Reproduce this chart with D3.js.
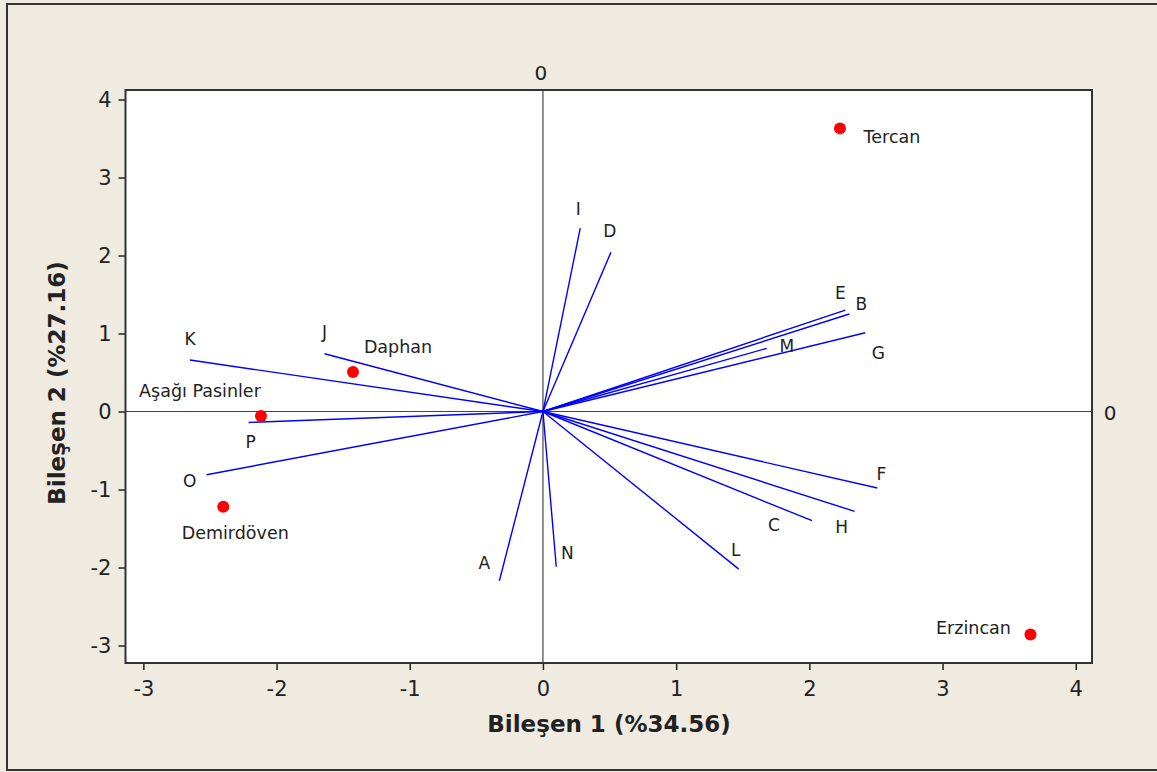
<!DOCTYPE html>
<html>
<head>
<meta charset="utf-8">
<script src="https://cdn.jsdelivr.net/npm/d3@7"></script>
<style>
  body { margin: 0; background: #efebe0; }
  text { font-family: "DejaVu Sans", Verdana, sans-serif; fill: #222; }
</style>
</head>
<body>
<div id="chart"></div>
<script>
// biplot data
const regions = ["Tercan", "Daphan", "Aşağı Pasinler", "Demirdöven", "Erzincan"]
const regionX = [2.23, -1.426, -2.117, -2.40, 3.66]
const regionY = [3.63, 0.506, -0.058, -1.22, -2.86]

const variables = ["A", "B", "C", "D", "E", "F", "G", "H", "I", "J", "K", "L", "M", "N", "O", "P"]
const loadX = [-0.327, 2.30, 2.02, 0.51, 2.27, 2.51, 2.42, 2.34, 0.28, -1.64, -2.65, 1.47, 1.68, 0.10, -2.525, -2.21]
const loadY = [-2.17, 1.25, -1.40, 2.04, 1.30, -0.98, 1.01, -1.28, 2.35, 0.74, 0.66, -2.02, 0.81, -1.99, -0.81, -0.14]

const xTicks = [-3, -2, -1, 0, 1, 2, 3, 4]
const yTicks = [-3, -2, -1, 0, 1, 2, 3, 4]

// label placement (pixels from the mark)
const varLabelOffset = [[-15, -18], [12, -10], [-38, 4], [-1, -21], [-5, -17], [4, -14], [13, 20], [-13, 16],
    [-2, -19], [0, -22], [0, -21], [-3, -19], [20, -2], [11, -14], [-17, 6], [2, 20]]
const regionLabelOffset = [[52, 9], [45, -25], [-61, -25], [12, 26], [-57, -7]]

const width = 1157, height = 772
const plot = { left: 125.5, right: 1092, top: 90, bottom: 663 }

let svg = d3.select("#chart")
    .append("svg")
    .attr("width", width)
    .attr("height", height)

// outer frame
svg.append("rect")
    .attr("x", 7).attr("y", 4)
    .attr("width", width + 10).attr("height", height - 6)
    .attr("fill", "#efebe0")
    .attr("stroke", "#333")
    .attr("stroke-width", 2)

let x = d3.scaleLinear().domain([-3.134, 4.122]).range([plot.left, plot.right])
let y = d3.scaleLinear().domain([-3.224, 4.122]).range([plot.bottom, plot.top])

svg.append("rect")
    .attr("x", plot.left).attr("y", plot.top)
    .attr("width", plot.right - plot.left).attr("height", plot.bottom - plot.top)
    .attr("fill", "white")

// reference lines at 0
svg.append("line")
    .attr("x1", x(0)).attr("x2", x(0))
    .attr("y1", plot.top).attr("y2", plot.bottom)
    .attr("stroke", "#444").attr("stroke-width", 1.2)
svg.append("line")
    .attr("x1", plot.left).attr("x2", plot.right)
    .attr("y1", y(0)).attr("y2", y(0))
    .attr("stroke", "#444").attr("stroke-width", 1.2)
svg.append("text")
    .attr("x", x(0) - 2).attr("y", 80)
    .attr("text-anchor", "middle")
    .style("font-size", "20px")
    .text("0")
svg.append("text")
    .attr("x", plot.right + 18).attr("y", y(0) + 8)
    .attr("text-anchor", "middle")
    .style("font-size", "20px")
    .text("0")

// axes
let xAxis = svg.append("g")
    .attr("transform", `translate(0, ${plot.bottom})`)
    .call(d3.axisBottom(x).tickValues(xTicks).tickSize(7).tickPadding(11).tickFormat(d3.format("d")))
let yAxis = svg.append("g")
    .attr("transform", `translate(${plot.left}, 0)`)
    .call(d3.axisLeft(y).tickValues(yTicks).tickSize(7).tickPadding(7).tickFormat(d3.format("d")))
for (const ax of [xAxis, yAxis]) {
    ax.select(".domain").remove()
    ax.selectAll(".tick line").attr("stroke", "#222").attr("stroke-width", 1.5)
    ax.selectAll(".tick text")
        .style("font-size", "21px")
        .style("font-family", "'DejaVu Sans', Verdana, sans-serif")
        .attr("fill", "#222")
        .text(d => d < 0 ? "-" + Math.abs(d) : d)
}

// loading vectors
svg.selectAll("line.vec")
    .data(variables)
    .enter()
    .append("line")
    .attr("class", "vec")
    .attr("x1", x(0)).attr("y1", y(0))
    .attr("x2", (d, i) => x(loadX[i]))
    .attr("y2", (d, i) => y(loadY[i]))
    .attr("stroke", "#0000ff")
    .attr("stroke-width", 1.4)

svg.selectAll("text.vec")
    .data(variables)
    .enter()
    .append("text")
    .attr("class", "vec")
    .attr("x", (d, i) => x(loadX[i]) + varLabelOffset[i][0])
    .attr("y", (d, i) => y(loadY[i]) + varLabelOffset[i][1])
    .attr("text-anchor", "middle")
    .attr("dominant-baseline", "central")
    .style("font-size", "17px")
    .text(d => d)

// plot border on top
svg.append("rect")
    .attr("x", plot.left).attr("y", plot.top)
    .attr("width", plot.right - plot.left).attr("height", plot.bottom - plot.top)
    .attr("fill", "none")
    .attr("stroke", "#333")
    .attr("stroke-width", 2)

// region scores
svg.selectAll("circle.pt")
    .data(regions)
    .enter()
    .append("circle")
    .attr("class", "pt")
    .attr("cx", (d, i) => x(regionX[i]))
    .attr("cy", (d, i) => y(regionY[i]))
    .attr("r", 6)
    .attr("fill", "#ff0000")

svg.selectAll("text.pt")
    .data(regions)
    .enter()
    .append("text")
    .attr("class", "pt")
    .attr("x", (d, i) => x(regionX[i]) + regionLabelOffset[i][0])
    .attr("y", (d, i) => y(regionY[i]) + regionLabelOffset[i][1])
    .attr("text-anchor", "middle")
    .attr("dominant-baseline", "central")
    .style("font-size", "17.5px")
    .text(d => d)

// axis titles
svg.append("text")
    .attr("x", 609).attr("y", 724)
    .attr("text-anchor", "middle")
    .attr("dominant-baseline", "central")
    .style("font-size", "23px")
    .style("font-weight", "bold")
    .text("Bileşen 1 (%34.56)")
svg.append("text")
    .attr("transform", "translate(57, 383) rotate(-90)")
    .attr("text-anchor", "middle")
    .attr("dominant-baseline", "central")
    .style("font-size", "23px")
    .style("font-weight", "bold")
    .text("Bileşen 2 (%27.16)")
</script>
</body>
</html>
